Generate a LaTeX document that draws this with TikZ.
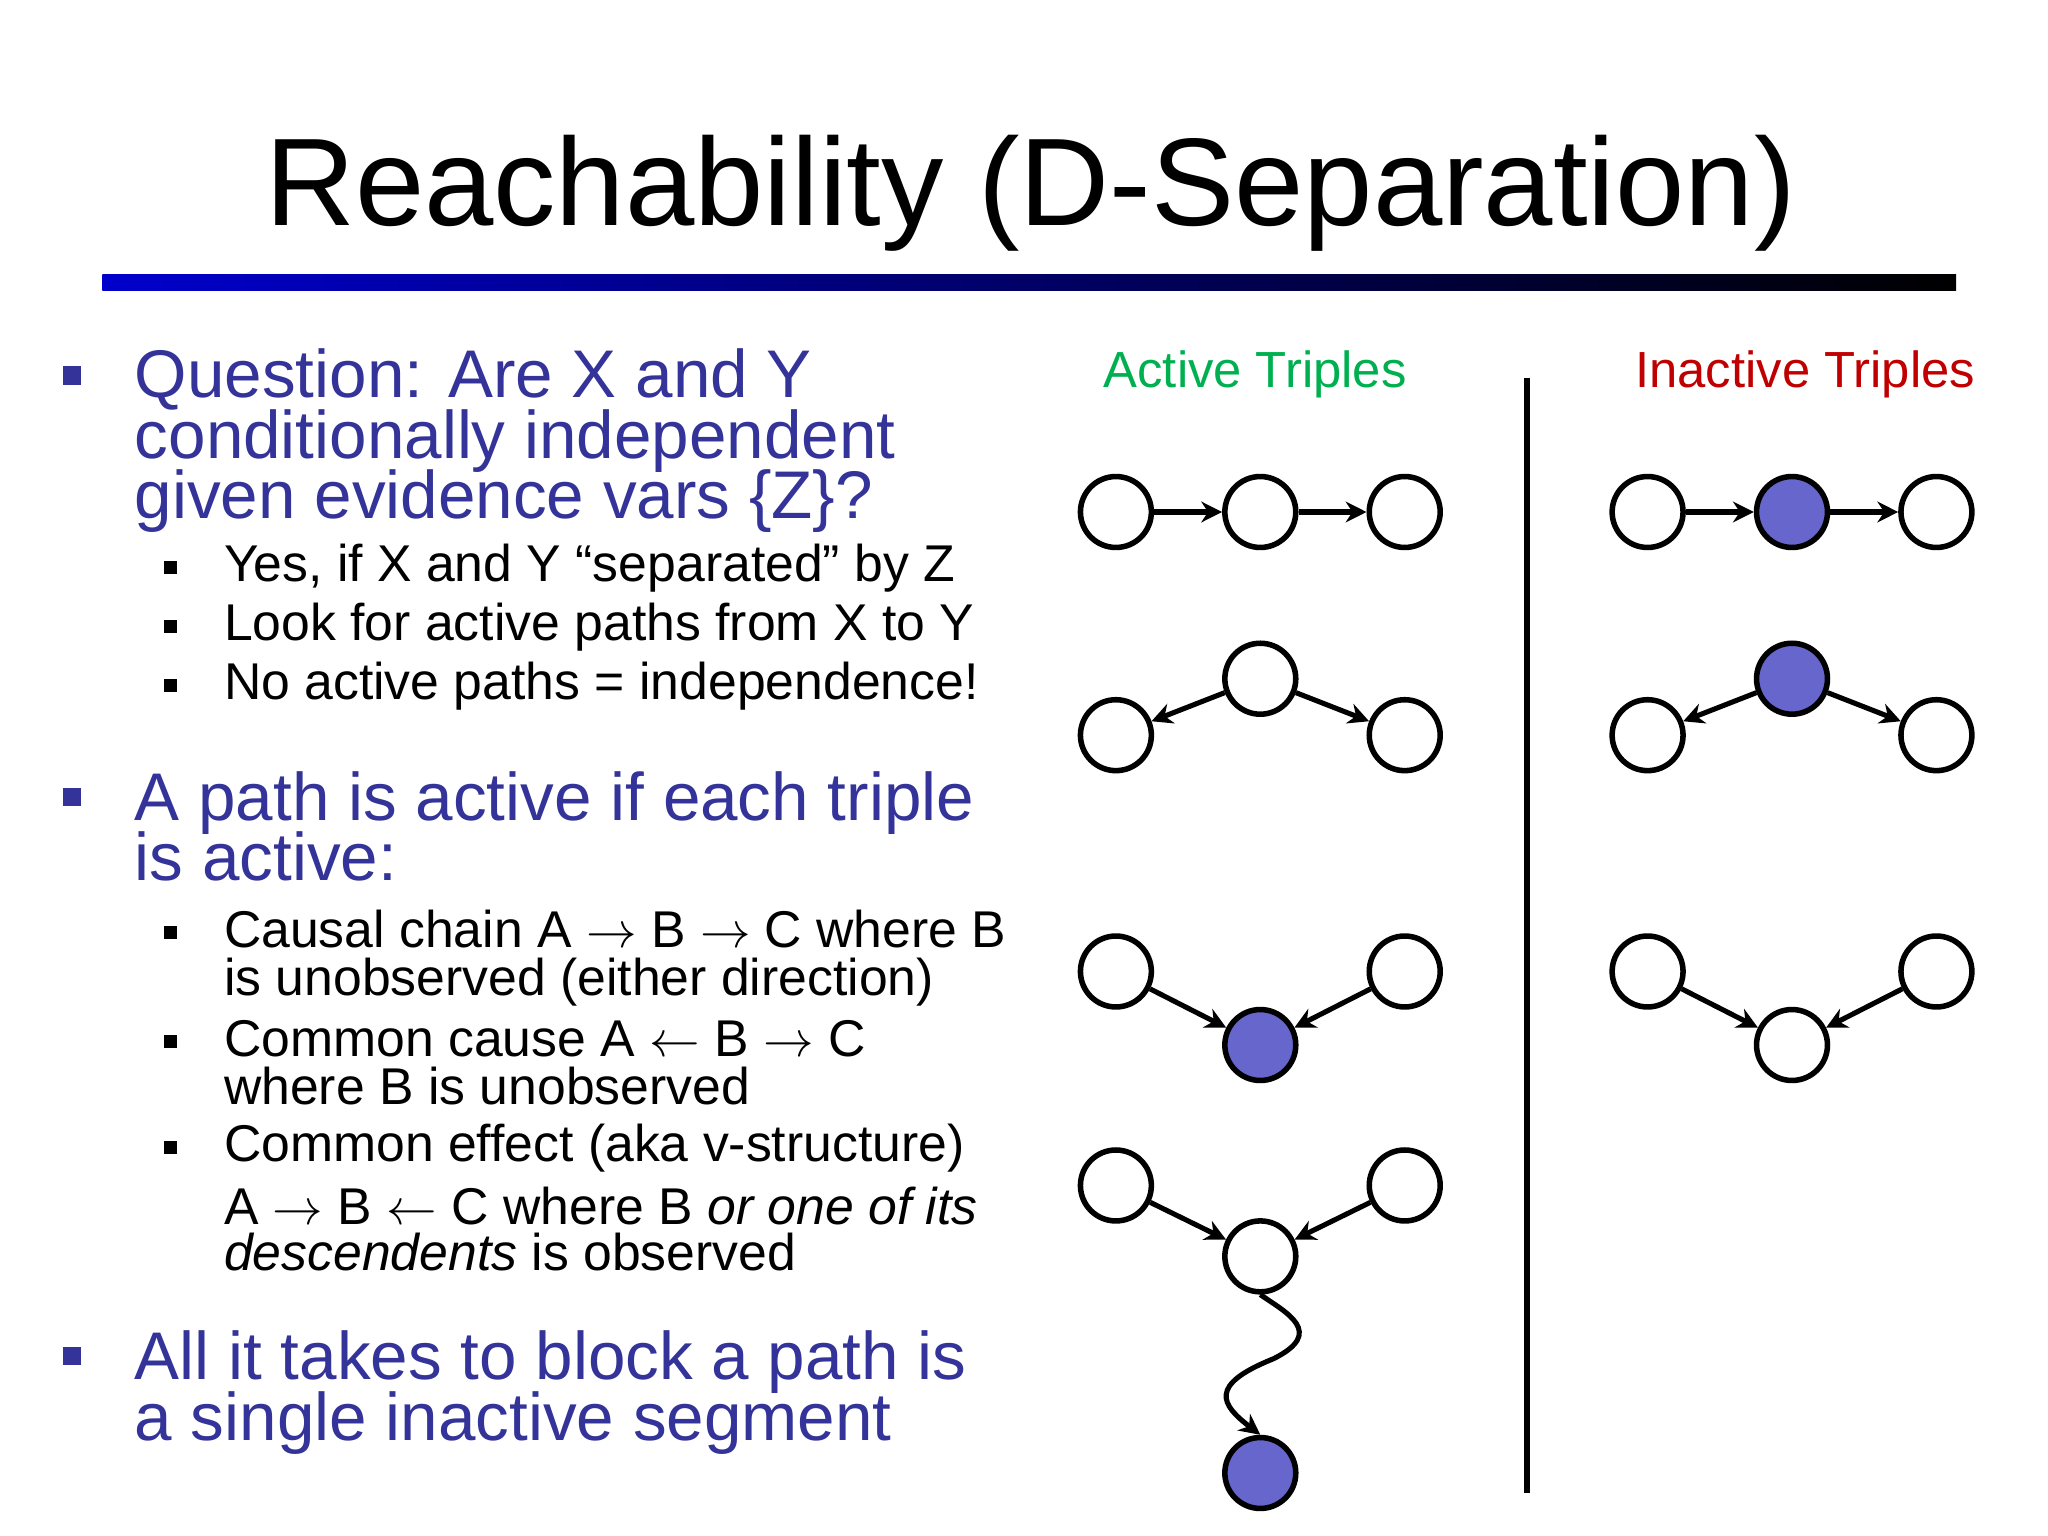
\documentclass[tikz,border=0pt]{standalone}
\usepackage{fontspec}
\setmainfont{Liberation Sans}
\usetikzlibrary{arrows.meta}
\definecolor{tblue}{RGB}{51,51,153}
\definecolor{tgreen}{RGB}{0,176,80}
\definecolor{tred}{RGB}{192,0,0}
\definecolor{nfill}{RGB}{102,102,204}
\begin{document}
\begin{tikzpicture}[x=0.01cm,y=-0.01cm,
  nd/.style={circle,draw,line width=1.2pt,minimum size=0.54cm,inner sep=0pt,fill=white},
  ob/.style={nd,fill=nfill},
  ar/.style={line width=1.1pt,-{Stealth[length=4.5pt,width=4.5pt]}},
  big/.style={anchor=base west,text=tblue,font=\fontsize{14.6}{15}\selectfont,inner sep=0pt},
  sml/.style={anchor=base west,font=\fontsize{11.2}{12}\selectfont,inner sep=0pt},
  bul/.style={fill=tblue,minimum size=0.14cm,inner sep=0pt},
  sbul/.style={fill=black,minimum size=0.1cm,inner sep=0pt}]
\useasboundingbox (0,0) rectangle (1560,1170);
\node[font=\fontsize{27}{28}\selectfont,anchor=base] (title) at (785,172) {Reachability (D-Separation)};
\shade[left color=blue!80!black,right color=black] (78,209) rectangle (1490,221);
% left text
\node[bul] (b1) at (55,286) {};
\node[big] (t1) at (102,303) {Question: Are X and Y};
\node[big] (t2) at (102,349) {conditionally independent};
\node[big] (t3) at (102,395) {given evidence vars \{Z\}?};
\node[sbul] (s1) at (130,432) {}; \node[sml] (u1) at (170,443) {Yes, if X and Y “separated” by Z};
\node[sbul] (s2) at (130,477) {}; \node[sml] (u2) at (170,488) {Look for active paths from X to Y};
\node[sbul] (s3) at (130,522) {}; \node[sml] (u3) at (170,533) {No active paths = independence!};
\node[bul] (b2) at (55,607) {};
\node[big] (t4) at (102,625) {A path is active if each triple};
\node[big] (t5) at (102,671) {is active:};
\node[sbul] (s4) at (130,710) {}; \node[sml] (u4) at (170,722) {Causal chain A $\rightarrow$ B $\rightarrow$ C where B};
\node[sml] (u5) at (170,758) {is unobserved (either direction)};
\node[sbul] (s5) at (130,793) {}; \node[sml] (u6) at (170,805) {Common cause A $\leftarrow$ B $\rightarrow$ C};
\node[sml] (u7) at (170,841) {where B is unobserved};
\node[sbul] (s6) at (130,874) {}; \node[sml] (u8) at (170,885) {Common effect (aka v-structure)};
\node[sml] (u9) at (170,933) {A $\rightarrow$ B $\leftarrow$ C where B \textit{or one of its}};
\node[sml] (u10) at (170,968) {\textit{descendents} is observed};
\node[bul] (b3) at (55,1033) {};
\node[big] (t6) at (102,1051) {All it takes to block a path is};
\node[big] (t7) at (102,1097) {a single inactive segment};
% headers
\node[text=tgreen,font=\fontsize{11}{12}\selectfont,anchor=base] (ha) at (956,295) {Active Triples};
\node[text=tred,font=\fontsize{11}{12}\selectfont,anchor=base] (hi) at (1375,295) {Inactive Triples};
\draw[line width=1.4pt] (1163,288) -- (1163,1137);
% active
\node[nd] (a1) at (850,390) {}; \node[nd] (a2) at (960,390) {}; \node[nd] (a3) at (1070,390) {};
\draw[ar] (a1)--(a2); \draw[ar] (a2)--(a3);
\node[nd] (c1) at (850,560) {}; \node[nd] (c2) at (960,517) {}; \node[nd] (c3) at (1070,560) {};
\draw[ar] (c2)--(c1); \draw[ar] (c2)--(c3);
\node[nd] (e1) at (850,740) {}; \node[ob] (e2) at (960,796) {}; \node[nd] (e3) at (1070,740) {};
\draw[ar] (e1)--(e2); \draw[ar] (e3)--(e2);
\node[nd] (f1) at (850,903) {}; \node[nd] (f2) at (960,957) {}; \node[nd] (f3) at (1070,903) {};
\node[ob] (f4) at (960,1122) {};
\draw[ar] (f1)--(f2); \draw[ar] (f3)--(f2);
\draw[ar] (f2.south) .. controls (980,1000) and (1010,1015) .. (970,1035) .. controls (920,1055) and (930,1070) .. (f4.north);
% inactive
\node[nd] (i1) at (1255,390) {}; \node[ob] (i2) at (1365,390) {}; \node[nd] (i3) at (1475,390) {};
\draw[ar] (i1)--(i2); \draw[ar] (i2)--(i3);
\node[nd] (j1) at (1255,560) {}; \node[ob] (j2) at (1365,517) {}; \node[nd] (j3) at (1475,560) {};
\draw[ar] (j2)--(j1); \draw[ar] (j2)--(j3);
\node[nd] (k1) at (1255,740) {}; \node[nd] (k2) at (1365,796) {}; \node[nd] (k3) at (1475,740) {};
\draw[ar] (k1)--(k2); \draw[ar] (k3)--(k2);
\end{tikzpicture}
\end{document}
